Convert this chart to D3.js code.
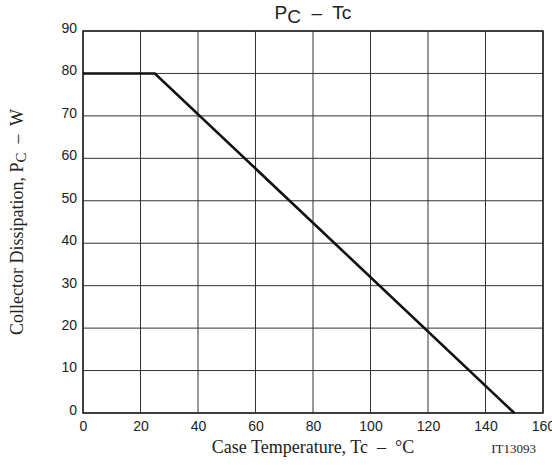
<!DOCTYPE html>
<html>
<head>
<meta charset="utf-8">
<script src="https://cdn.jsdelivr.net/npm/d3@7"></script>
<style>
  body { margin: 0; background: #fff; }
  svg { display: block; }
</style>
</head>
<body>
<div id="chart"></div>
<script>
// derating curve, Pc vs Tc
const tempC = [0, 25, 150];
const powerW = [80, 80, 0];
const xTicks = [0, 20, 40, 60, 80, 100, 120, 140, 160];
const yTicks = [0, 10, 20, 30, 40, 50, 60, 70, 80, 90];

const W = 552, H = 465;
const margin = { top: 31, right: 9, bottom: 52, left: 83 };
const width = W - margin.left - margin.right;
const height = H - margin.top - margin.bottom;

const svg = d3.select('#chart').append('svg')
  .attr('width', W)
  .attr('height', H);

const g = svg.append('g')
  .attr('transform', `translate(${margin.left},${margin.top})`);

const x = d3.scaleLinear().domain([0, 160]).range([0, width]);
const y = d3.scaleLinear().domain([0, 90]).range([height, 0]);

// grid
g.append('g')
  .selectAll('line')
  .data(xTicks)
  .enter().append('line')
    .attr('x1', d => x(d)).attr('x2', d => x(d))
    .attr('y1', 0).attr('y2', height)
    .attr('stroke', '#333').attr('stroke-width', 1);

g.append('g')
  .selectAll('line')
  .data(yTicks)
  .enter().append('line')
    .attr('x1', 0).attr('x2', width)
    .attr('y1', d => y(d)).attr('y2', d => y(d))
    .attr('stroke', '#333').attr('stroke-width', 1);

g.append('rect')
  .attr('width', width).attr('height', height)
  .attr('fill', 'none').attr('stroke', '#222').attr('stroke-width', 1.5);

// tick labels
const xAxis = g.append('g')
  .attr('transform', `translate(0,${height})`)
  .call(d3.axisBottom(x).tickValues(xTicks).tickSize(0).tickPadding(8));
xAxis.select('.domain').remove();
xAxis.selectAll('text')
  .style('font-family', '"Liberation Sans", Arial, sans-serif')
  .style('font-size', '14px')
  .attr('fill', '#222');

const yAxis = g.append('g')
  .call(d3.axisLeft(y).tickValues(yTicks).tickSize(0).tickPadding(6));
yAxis.select('.domain').remove();
yAxis.selectAll('text')
  .style('font-family', '"Liberation Sans", Arial, sans-serif')
  .style('font-size', '14px')
  .attr('dy', '0.1em')
  .attr('fill', '#222');

// curve
const line = d3.line()
  .x((d, i) => x(tempC[i]))
  .y(d => y(d));

g.append('path')
  .datum(powerW)
  .attr('d', line)
  .attr('fill', 'none')
  .attr('stroke', '#111')
  .attr('stroke-width', 2.6)
  .attr('stroke-linejoin', 'miter');

// title
const title = svg.append('text')
  .attr('x', margin.left + width / 2)
  .attr('y', 19)
  .attr('text-anchor', 'middle')
  .style('font-family', '"Liberation Sans", Arial, sans-serif')
  .style('font-size', '19px')
  .attr('fill', '#222')
  .attr('xml:space', 'preserve');
title.append('tspan').text('P');
title.append('tspan').attr('dy', 4).text('C');
title.append('tspan').attr('dy', -4).text('  –  Tc');

// x label
svg.append('text')
  .attr('x', margin.left + width / 2)
  .attr('y', 453)
  .attr('text-anchor', 'middle')
  .style('font-family', '"Liberation Serif", "Times New Roman", serif')
  .style('font-size', '18px')
  .attr('fill', '#222')
  .attr('xml:space', 'preserve')
  .text('Case Temperature, Tc  –  °C');

svg.append('text')
  .attr('x', 536)
  .attr('y', 453)
  .attr('text-anchor', 'end')
  .style('font-family', '"Liberation Serif", "Times New Roman", serif')
  .style('font-size', '13px')
  .attr('fill', '#222')
  .text('IT13093');

// y label
const yl = svg.append('text')
  .attr('transform', `translate(23,${margin.top + height / 2}) rotate(-90)`)
  .attr('text-anchor', 'middle')
  .style('font-family', '"Liberation Serif", "Times New Roman", serif')
  .style('font-size', '18px')
  .attr('fill', '#222')
  .attr('xml:space', 'preserve');
yl.append('tspan').text('Collector Dissipation, P');
yl.append('tspan').attr('font-size', '15px').attr('dy', 3).text('C');
yl.append('tspan').attr('dy', -3).text('  –  W');
</script>
</body>
</html>
